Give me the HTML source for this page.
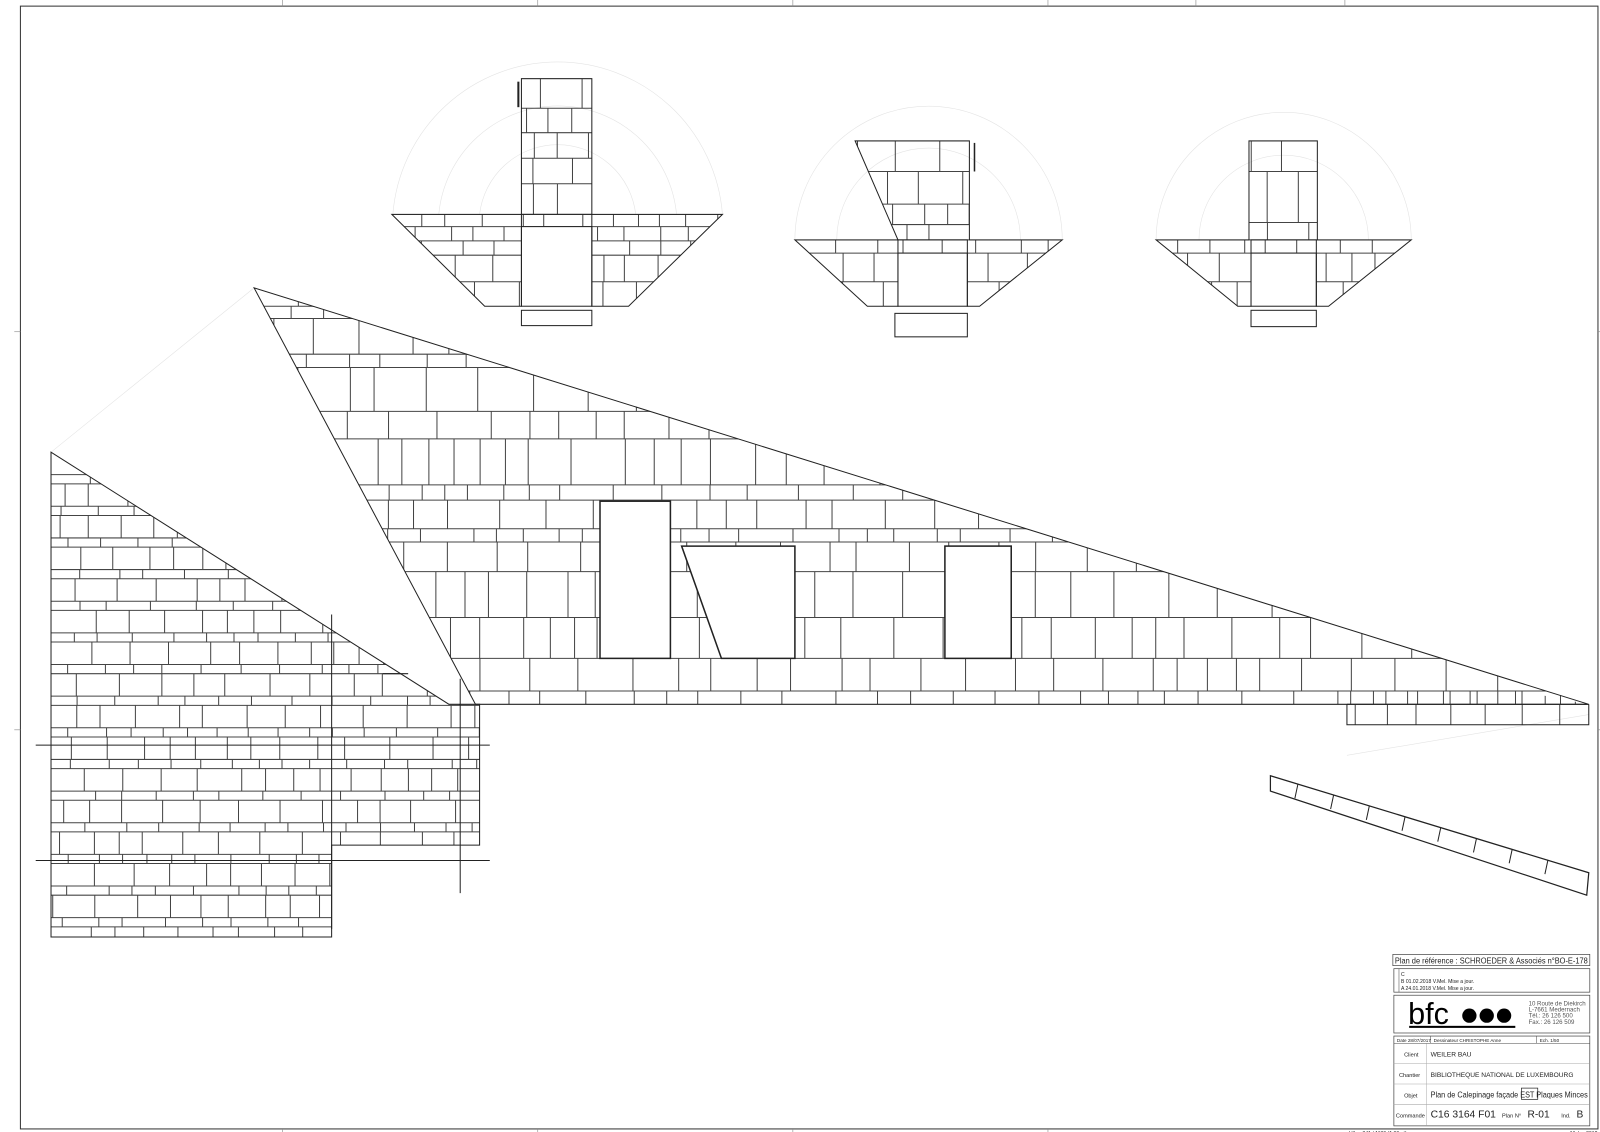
<!DOCTYPE html>
<html><head><meta charset="utf-8"><style>
html,body{margin:0;padding:0;background:#fff}
svg{display:block}
text{font-family:"Liberation Sans",sans-serif;fill:#222}
</style></head><body>
<svg id="s" width="1600" height="1132" viewBox="0 0 1568 1109" preserveAspectRatio="none" xmlns="http://www.w3.org/2000/svg">
<defs>
<clipPath id="cBig"><polygon points="249,282 1557,690 1557,690 1557,690 466,690"/></clipPath>
<clipPath id="cBigStrip"><polygon points="1320,677 1490,677 1557,690 1557,710 1320,710"/></clipPath>
<clipPath id="cLeft"><polygon points="50,443 440,690 470,690 470,828 325,828 325,918 50,918"/></clipPath>
<clipPath id="cS1"><polygon points="511,77 580,77 580,210 708,210 616,300 580,300 580,222 511,222 511,300 475,300 384,210 511,210"/></clipPath>
<clipPath id="cS2"><polygon points="838,138 950,138 950,235 1041,235 960,300 948,300 948,248 880,248 880,300 850,300 779,235 880,235"/></clipPath>
<clipPath id="cS3"><polygon points="1224,138 1291,138 1291,235 1383,235 1302,300 1290,300 1290,248 1226,248 1226,300 1213,300 1133,235 1224,235"/></clipPath>
</defs>
<rect x="20" y="6" width="1546" height="1100" fill="none" stroke="#333" stroke-width="1"/>
<g stroke="#888" stroke-width="0.6">
<line x1="20" y1="325" x2="14" y2="325"/><line x1="20" y1="715" x2="14" y2="715"/>
<line x1="1566" y1="325" x2="1574" y2="325"/><line x1="1566" y1="715" x2="1574" y2="715"/>
<line x1="277" y1="6" x2="277" y2="0"/><line x1="527" y1="6" x2="527" y2="0"/><line x1="777" y1="6" x2="777" y2="0"/><line x1="1027" y1="6" x2="1027" y2="0"/><line x1="1172" y1="6" x2="1172" y2="0"/><line x1="1318" y1="6" x2="1318" y2="0"/>
<line x1="277" y1="1106" x2="277" y2="1112"/><line x1="527" y1="1106" x2="527" y2="1112"/><line x1="777" y1="1106" x2="777" y2="1112"/><line x1="1027" y1="1106" x2="1027" y2="1112"/>
</g>
<g id="faint" fill="none" stroke="#e4e4e4" stroke-width="0.6">
<path d="M385,210 A162,162 0 0 1 708,210"/><path d="M430,210 A117,117 0 0 1 663,210"/><path d="M470,210 A77,77 0 0 1 623,210"/>
<path d="M779,235 A131,131 0 0 1 1041,235"/><path d="M820,235 A90,90 0 0 1 1000,235"/>
<path d="M1133,235 A125,125 0 0 1 1383,235"/><path d="M1175,235 A83,83 0 0 1 1341,235"/>
<line x1="50" y1="443" x2="249" y2="282"/><line x1="1320" y1="740" x2="1557" y2="700"/>
</g>
<g id="tiles" stroke="#444" stroke-width="1" fill="none"></g>
<g fill="none" stroke="#222" stroke-width="1">
<polygon points="249,282 1557,690 466,690"/>
<polyline points="1320,690 1320,710 1557,710 1557,690"/>
<polygon points="50,443 440,690 470,690 470,828 325,828 325,918 50,918"/>
<rect x="588" y="491" width="69" height="154" fill="#fff" stroke-width="1.5"/>
<polygon points="668,535 779,535 779,645 707,645" fill="#fff" stroke-width="1.5"/>
<rect x="926" y="535" width="65" height="110" fill="#fff" stroke-width="1.5"/>
<polygon points="511,77 580,77 580,210 708,210 616,300 580,300 580,222 511,222 511,300 475,300 384,210 511,210"/>
<rect x="511" y="210" width="69" height="90"/>
<rect x="511" y="304" width="69" height="15"/>
<polygon points="838,138 950,138 950,235 1041,235 960,300 948,300 948,248 880,248 880,300 850,300 779,235 880,235"/>
<rect x="880" y="235" width="68" height="65"/>
<rect x="877" y="307" width="71" height="23"/>
<polygon points="1224,138 1291,138 1291,235 1383,235 1302,300 1290,300 1290,248 1226,248 1226,300 1213,300 1133,235 1224,235"/>
<rect x="1226" y="235" width="64" height="65"/>
<rect x="1226" y="304" width="64" height="16"/>
<polygon points="1245,760 1557,855 1555,877 1245,775" stroke-width="1.2"/>
<line x1="508" y1="80" x2="508" y2="105" stroke-width="2"/>
<line x1="955" y1="140" x2="955" y2="168" stroke-width="1.5"/>
<line x1="325" y1="602" x2="325" y2="910"/><line x1="451" y1="665" x2="451" y2="875"/>
<line x1="35" y1="730" x2="480" y2="730"/><line x1="35" y1="843" x2="480" y2="843"/>
<line x1="375" y1="660" x2="400" y2="660"/>
</g>
<g id="strip" stroke="#222" stroke-width="1"></g>
<g font-size="8">
<rect x="1365" y="935" width="193" height="11" fill="none" stroke="#444" stroke-width="0.7"/>
<text x="1367" y="944" font-size="8" textLength="189" lengthAdjust="spacingAndGlyphs">Plan de référence : SCHROEDER &amp; Associés n°BO-E-178</text>
<rect x="1366" y="949" width="192" height="23" fill="none" stroke="#444" stroke-width="0.7"/>
<line x1="1371" y1="949" x2="1371" y2="972" stroke="#444" stroke-width="0.5"/>
<text x="1373" y="956" font-size="5">C</text>
<text x="1373" y="963" font-size="5">B 01.02.2018 V.Mel. Mise a jour.</text>
<text x="1373" y="970" font-size="5">A 24.01.2018 V.Mel. Mise a jour.</text>
<rect x="1366" y="975" width="192" height="37" fill="none" stroke="#444" stroke-width="0.7"/>
<text x="1380" y="1003" font-size="30" style="fill:#000">bfc</text>
<circle cx="1440" cy="995" r="7" fill="#000"/><circle cx="1457" cy="995" r="7" fill="#000"/><circle cx="1474" cy="995" r="7" fill="#000"/>
<rect x="1381" y="1005" width="104" height="2" fill="#000"/>
<text font-size="6" style="fill:#555">
<tspan x="1498" y="985">10 Route de Diekirch</tspan><tspan x="1498" dy="6">L-7661 Medernach</tspan><tspan x="1498" dy="6">Tél.:  26 126 500</tspan><tspan x="1498" dy="6">Fax.:  26 126 509</tspan></text>
<rect x="1366" y="1015" width="192" height="88" fill="none" stroke="#444" stroke-width="0.7"/>
<line x1="1366" y1="1022" x2="1558" y2="1022" stroke="#444" stroke-width="0.5"/>
<line x1="1402" y1="1015" x2="1402" y2="1022" stroke="#444" stroke-width="0.5"/>
<line x1="1506" y1="1015" x2="1506" y2="1022" stroke="#444" stroke-width="0.5"/>
<text x="1369" y="1021" font-size="4.5">Date   28/07/2017</text>
<text x="1405" y="1021" font-size="4.5">Dessinateur          CHRISTOPHE Anne</text>
<text x="1509" y="1021" font-size="4.5">Ech.        1/50</text>
<line x1="1398" y1="1022" x2="1398" y2="1103" stroke="#aaa" stroke-width="0.5"/>
<line x1="1366" y1="1042" x2="1558" y2="1042" stroke="#aaa" stroke-width="0.5"/>
<line x1="1366" y1="1062" x2="1558" y2="1062" stroke="#aaa" stroke-width="0.5"/>
<line x1="1366" y1="1082" x2="1558" y2="1082" stroke="#aaa" stroke-width="0.5"/>
<text x="1376" y="1035" font-size="5.5">Client</text><text x="1402" y="1035" font-size="6.5">WEILER BAU</text>
<text x="1371" y="1055" font-size="5.5">Chantier</text><text x="1402" y="1055" font-size="6.5" textLength="140" lengthAdjust="spacingAndGlyphs">BIBLIOTHEQUE NATIONAL DE LUXEMBOURG</text>
<text x="1376" y="1075" font-size="5.5">Objet</text><text x="1402" y="1075" font-size="8.5" textLength="154" lengthAdjust="spacingAndGlyphs">Plan de Calepinage façade EST Plaques Minces</text>
<rect x="1491" y="1066" width="16" height="11" fill="none" stroke="#222" stroke-width="0.7"/>
<text x="1368" y="1095" font-size="5.5">Commande</text><text x="1402" y="1095" font-size="10" textLength="64" lengthAdjust="spacingAndGlyphs">C16 3164 F01</text>
<text x="1472" y="1095" font-size="5.5">Plan N°</text><text x="1497" y="1095" font-size="10">R-01</text>
<text x="1530" y="1095" font-size="5.5">Ind.</text><text x="1545" y="1095" font-size="10">B</text>
<text x="1322" y="1112" font-size="5">H/L = 841 / 1189 (1.00m²)</text>
<text x="1538" y="1112" font-size="5">Allplan 2012</text>
</g>
</svg>
<script>
var NS="http://www.w3.org/2000/svg",g=document.getElementById('tiles');
var seed=7;function r(){seed=(seed*16807)%2147483647;return seed/2147483647;}
function L(a,b,c,d,p){var l=document.createElementNS(NS,'line');l.setAttribute('x1',a);l.setAttribute('y1',b);l.setAttribute('x2',c);l.setAttribute('y2',d);p.appendChild(l);}
function fill(clip,x0,x1,ys,wmin,wmax){var grp=document.createElementNS(NS,'g');grp.setAttribute('clip-path','url(#'+clip+')');g.appendChild(grp);
for(var i=0;i<ys.length-1;i++){var y=ys[i],y2=ys[i+1];L(x0,y,x1,y,grp);var x=x0+r()*wmax;while(x<x1){L(x,y,x,y2,grp);x+=wmin+r()*(wmax-wmin);}}}
var big=[282,300,312,347,360,403,430,475,490,518,531,560,605,645,677,690];
fill('cBig',240,1560,big,22,55);
fill('cBigStrip',1320,1560,[677,690,710],25,40);
var ly=[];for(var y=443;y<=918;y+=0){ly.push(y);y+=(ly.length%2?22:9);} ly.push(918);
fill('cLeft',50,475,ly,22,45);
fill('cS1',380,710,[77,106,130,155,180,210,222,236,250,276,300],20,45);
fill('cS2',775,1045,[138,168,200,220,235,248,276,300],20,45);
fill('cS3',1130,1385,[138,168,218,235,248,276,300],20,45);
var sg=document.getElementById('strip');
for(var k=0;k<8;k++){var t=k/8,x=1272+t*280,y=768+t*85;L(x,y,x-3,y+14,sg);}
</script>
</body></html>
